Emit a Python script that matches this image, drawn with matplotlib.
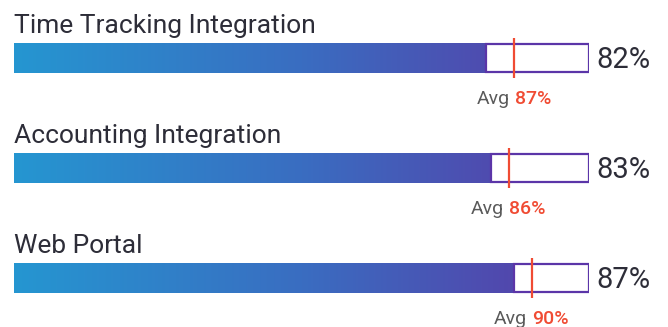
import numpy as np
import matplotlib.pyplot as plt
from matplotlib.colors import LinearSegmentedColormap
from matplotlib.patches import Rectangle

plt.rcParams['font.family'] = ['Roboto', 'DejaVu Sans']

categorias = ["Time Tracking Integration", "Accounting Integration", "Web Portal"]
valores = [82, 83, 87]
promedios = [87, 86, 90]

W, H = 668, 327
fig = plt.figure(figsize=(W / 100, H / 100), dpi=100)
# eje x en escala 0-100, eje y en pixeles de la figura
ax = fig.add_axes([14 / W, 0, 575 / W, 1])
ax.set_xlim(0, 100)
ax.set_ylim(H, 0)
ax.axis('off')

degradado = LinearSegmentedColormap.from_list('deg', ['#2596d1', '#3a6dc1', '#5a3aa6'])
grad = np.linspace(0, 1, 512).reshape(1, -1)

color_borde = '#5b35a8'
color_rojo = '#f04b33'

for i in range(len(categorias)):
    top = 43 + i * 110
    bot = top + 30
    ax.text(0, top - 10, categorias[i], fontsize=19, color='#2d2d38', va='baseline', ha='left')

    # barra con degradado
    img = ax.imshow(grad, cmap=degradado, aspect='auto', extent=(0, 100, bot, top), interpolation='bicubic')
    clip = Rectangle((0, top), valores[i], 30, transform=ax.transData)
    img.set_clip_path(clip)

    # caja vacia hasta 100
    ax.add_patch(Rectangle((valores[i], top + 0.8), 100 - valores[i], 28.4,
                           facecolor='white', edgecolor=color_borde, lw=1.6))

    # linea del promedio
    ax.plot([promedios[i], promedios[i]], [top - 5, bot + 5], color=color_rojo, lw=1.6, solid_capstyle='butt')

    ax.text(101.3, top + 17, f"{valores[i]}%", fontsize=21, color='#2d2d38', va='center', ha='left')

    ax.annotate("Avg", xy=(promedios[i], bot + 31), ha='right', va='baseline',
                fontsize=14, color='#5a5a5a', xytext=(-3, 0), textcoords='offset points')
    ax.annotate(f"{promedios[i]}%", xy=(promedios[i], bot + 31), ha='left', va='baseline',
                fontsize=14, color=color_rojo, fontweight='medium', xytext=(0.5, 0), textcoords='offset points')

fig.savefig('out.png', dpi=100)
